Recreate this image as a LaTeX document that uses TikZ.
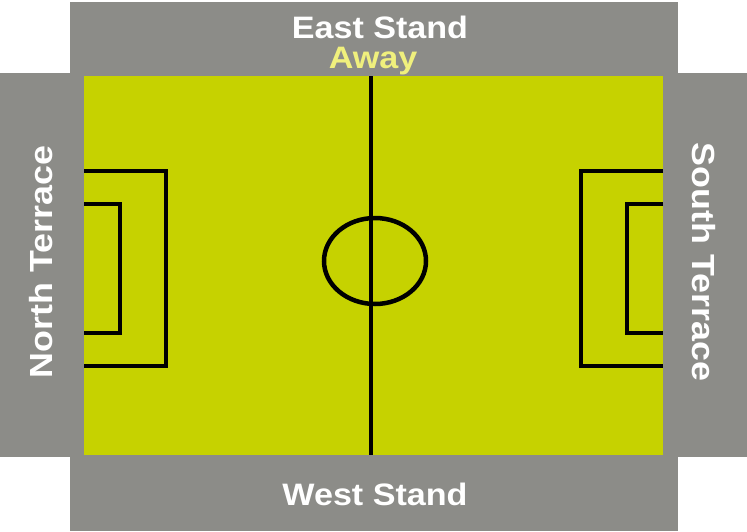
\documentclass[tikz,border=0pt]{standalone}
\usepackage{fontspec}
\usepackage{graphicx}
\setmainfont{Liberation Sans}
\definecolor{standgray}{RGB}{140,140,136}
\definecolor{pitch}{RGB}{198,210,0}
\definecolor{awayyellow}{RGB}{240,240,125}
\begin{document}
\begin{tikzpicture}[x=1pt,y=-1pt,
  stand/.style={fill=standgray,draw=none},
  label/.style={text=white,font=\bfseries\fontsize{31}{31}\selectfont,inner sep=0pt,xscale=1.1},
  sidelabel/.style={text=white,font=\bfseries\fontsize{32}{32}\selectfont,inner sep=0pt},
  markA/.style={draw=black,line width=4.5pt},
  markB/.style={draw=black,line width=3.3pt}]
\useasboundingbox (0,0) rectangle (747,531);
\fill[white] (0,0) rectangle (747,531);
% stands
\fill[stand] (70,2) rectangle (678,531);
\fill[stand] (0,73) rectangle (747,457);
% pitch
\fill[pitch] (84,76) rectangle (663,455);
% markings
\draw[markA] (371,76) -- (371,455);
\draw[markA] (375,261) ellipse [x radius=51, y radius=43];
\draw[markA] (84,171) -- (166,171) -- (166,366) -- (84,366);
\draw[markB] (84,204) -- (120,204) -- (120,333) -- (84,333);
\draw[markA] (663,171) -- (581,171) -- (581,366) -- (663,366);
\draw[markB] (663,204) -- (627,204) -- (627,333) -- (663,333);
% labels
\node[label] (east) at (380,27) {East Stand};
\node[label,text=awayyellow] (away) at (373,61) {Away};
\node[label] (west) at (375,494) {West Stand};
\node[sidelabel,rotate=90] (north) at (41,262) {\scalebox{1.12}[1]{North Terrace}};
\node[sidelabel,rotate=-90] (south) at (704,262) {\scalebox{1.12}[1]{South Terrace}};
\end{tikzpicture}
\end{document}
